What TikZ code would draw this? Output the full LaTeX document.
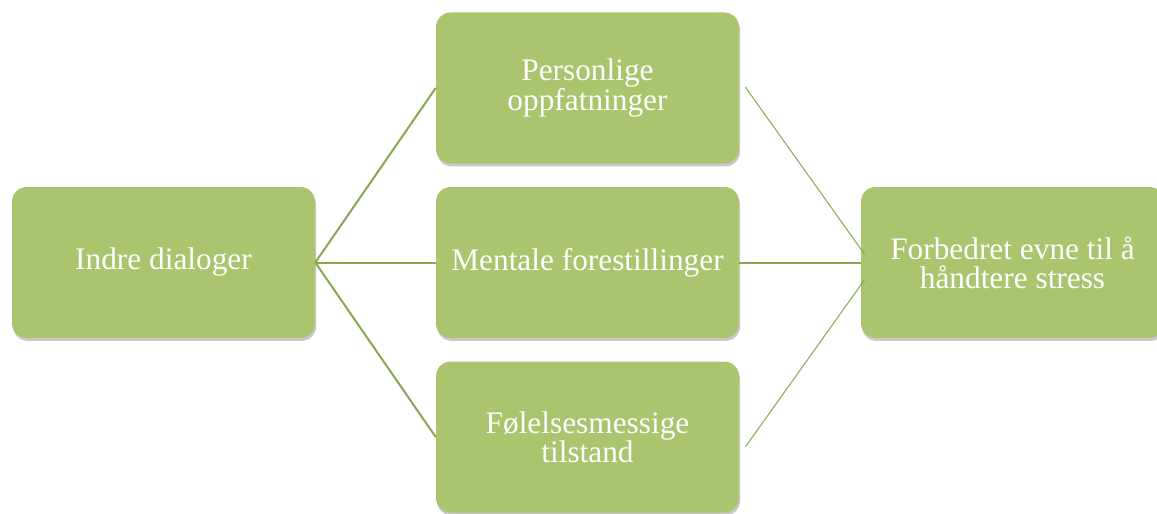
\documentclass[tikz,border=0pt]{standalone}
\usepackage{fontspec}
\setmainfont{Liberation Serif}
\usetikzlibrary{positioning}
\usetikzlibrary{shadows}
\usetikzlibrary{calc}
\definecolor{boxgreen}{RGB}{171,196,110}
\definecolor{linegreen}{RGB}{138,166,82}

\begin{document}
\begin{tikzpicture}[x=0.75pt,y=-0.75pt]
            \tikzset{block/.style={rectangle, rounded corners=11pt, fill=boxgreen,
                minimum width=227.25pt, minimum height=113.25pt, align=center,
                text=white, font=\fontsize{23.5}{22}\selectfont,
                drop shadow={shadow xshift=0.8pt, shadow yshift=-2.2pt, opacity=0.3, fill=black!70}}}
            \tikzset{link/.style={draw=linegreen, line width=1.5pt}}
            \tikzset{thinlink/.style={draw=linegreen, line width=0.75pt}}
            \useasboundingbox (0,0) rectangle (1157,514);
            \node[block] (dialog) at (163.5,262.5) {Indre dialoger};
            \node[block] (ment) at (587.5,262.5) {Mentale forestillinger};
            \node[block, above=17.25pt of ment] (pers) {Personlige\\oppfatninger};
            \node[block, below=17.25pt of ment] (fole) {Følelsesmessige\\tilstand};
            \node[block] (stress) at (1012.5,262.5) {Forbedret evne til å\\håndtere stress};
            \draw[link] (dialog.east) -- (pers.west);
            \draw[link] (dialog.east) -- (ment.west);
            \draw[link] (dialog.east) -- (fole.west);
            \draw[link] (ment.east) -- (stress.west);
            \draw[thinlink] ($(pers.east)+(6,-1)$) -- ($(stress.west)+(4,-8)$);
            \draw[thinlink] ($(fole.east)+(6,10)$) -- ($(stress.west)+(4,17)$);
        \end{tikzpicture}
\end{document}
